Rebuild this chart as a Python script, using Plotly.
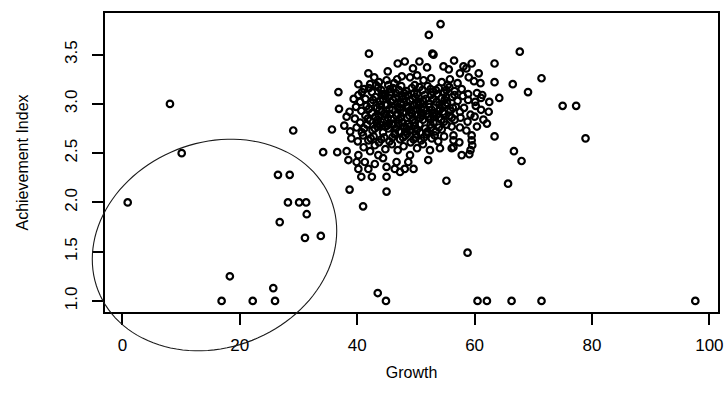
import math
import plotly.graph_objects as go

# Outlying points (Growth, Achievement Index)
outlier_growth = [0.9, 8.1, 10.1, 16.9, 18.3, 22.2, 26.0, 25.7, 26.5, 28.5, 26.8, 28.2, 30.1, 31.3,
                  31.4, 31.1, 33.8, 29.1, 43.5, 44.9, 58.8, 60.5, 62.1, 66.3, 71.4, 97.6,
                  55.2, 65.7, 66.7, 68.0, 63.4, 78.9, 75.0, 77.3, 71.4, 66.5, 69.1, 64.2, 63.4,
                  62.5, 62.1, 67.7, 63.4, 54.2, 52.2, 42.0, 52.8, 35.7, 34.2, 36.6, 38.2, 38.7,
                  41.0, 45.0, 36.8, 36.9]
outlier_achieve = [2.00, 3.00, 2.50, 1.00, 1.25, 1.00, 1.00, 1.13, 2.28, 2.28, 1.80, 2.00, 2.00, 2.00,
                   1.88, 1.64, 1.66, 2.73, 1.08, 1.00, 1.49, 1.00, 1.00, 1.00, 1.00, 1.00,
                   2.22, 2.19, 2.52, 2.42, 2.67, 2.65, 2.98, 2.98, 3.26, 3.20, 3.12, 3.06, 3.22,
                   3.02, 2.80, 3.53, 3.41, 3.81, 3.70, 3.51, 3.51, 2.74, 2.51, 2.51, 2.52, 2.13,
                   1.96, 2.11, 3.12, 2.95]

# Main cloud of schools
cloud_growth = [
    46.9, 48.1, 50.6, 54.7, 58.1, 59.5, 57.5, 60.7, 41.9, 53.0, 55.6, 49.5, 45.2, 51.9, 58.6, 56.5,
    40.2, 42.2, 45.0, 47.6, 49.0, 51.3, 61.0, 43.7, 46.3, 50.2, 52.6, 54.4, 55.8, 57.1, 59.0, 59.9, 46.8, 42.9,
    40.2, 60.4, 61.3, 41.2, 42.5, 43.6, 44.7, 45.6, 46.6, 47.5, 48.4, 49.3, 50.2, 51.1, 52.0, 52.9, 53.9,
    54.8, 55.7, 56.6, 57.8, 58.9, 43.2, 45.3, 49.8, 55.4, 40.8, 47.1, 52.5,
    41.4, 42.3, 43.1, 43.9, 44.8, 45.7, 46.5, 47.4, 48.2, 49.0, 49.9, 50.8, 51.7, 52.6, 53.5, 54.4, 55.3,
    56.2, 57.1, 58.0, 58.9, 60.1, 61.1, 40.5, 44.4, 48.6, 52.2, 56.6, 39.4,
    38.7, 62.4, 59.3, 57.5, 39.8, 40.7, 41.6, 42.5, 43.4, 44.2, 45.1, 46.0, 46.9, 47.8, 48.7, 49.6, 50.5,
    51.4, 52.3, 53.2, 54.1, 55.0, 55.9, 56.8, 58.2, 60.2, 61.1, 43.8, 47.4, 50.9, 54.6,
    61.5, 39.6, 40.5, 41.4, 42.2, 43.1, 44.0, 44.9, 45.8, 46.7, 47.6, 48.5, 49.4, 50.3, 51.2, 52.1, 53.0,
    53.9, 54.8, 55.7, 56.6, 57.6, 58.8, 60.0, 38.2, 45.4, 49.8, 53.5,
    56.1, 57.5, 54.4, 37.8, 38.8, 39.9, 40.8, 41.7, 42.6, 43.5, 44.4, 45.3, 46.2, 47.1, 48.0, 48.9, 49.8,
    50.7, 51.6, 52.5, 53.4, 55.2, 58.6, 60.4, 43.9, 48.5,
    39.0, 56.4, 59.5, 52.7, 56.4, 59.5, 40.1, 41.0, 41.9, 42.8, 43.7, 44.6, 45.5, 46.4, 47.3, 48.2, 49.1,
    50.0, 50.9, 51.8, 53.8, 54.8, 57.4,
    52.4, 54.1, 56.1, 59.3, 59.1, 40.2, 43.6, 49.0, 57.8, 59.6, 56.4, 41.1, 42.2, 43.0, 44.8, 45.9, 46.9,
    47.9, 50.2, 51.2,
    39.9, 41.3, 44.4, 48.7, 46.7, 52.1, 38.5, 43.0,
    40.2, 41.9, 45.0, 46.4, 47.3, 48.1, 49.6, 40.7, 42.5, 45.0,
    42.0, 44.1, 46.1, 48.0, 50.6, 53.4, 55.2,
    42.7, 44.4, 46.1, 47.8, 49.4, 51.2, 53.0, 54.9,
    42.0, 43.8, 45.5, 47.2, 49.1, 50.9, 52.7, 54.5, 56.3,
    41.8, 43.5, 45.2, 47.1, 48.9, 50.7, 52.5, 54.3, 56.1,
    41.2, 43.0, 44.8, 46.6, 48.4, 50.2, 52.0, 53.9,
    42.3, 44.1, 46.0, 47.8, 49.6, 51.4, 53.2,
    44.6, 46.9, 49.3, 51.8, 47.4, 50.1, 45.9, 48.8, 52.9, 43.4,
    44.2, 45.8, 47.7, 49.7, 51.5, 53.6, 55.1, 44.9, 46.8, 48.6, 50.4, 52.3, 54.0,
    43.7, 45.6, 47.5, 49.3, 51.1, 53.1, 54.9, 45.1, 47.0, 48.9, 50.6, 52.6,
    46.4, 48.3, 50.0, 51.9,
]
cloud_achieve = [
    3.41, 3.43, 3.43, 3.38, 3.38, 3.41, 3.31, 3.31, 3.31, 3.50, 3.35, 3.36, 3.33, 3.37, 3.36, 3.44,
    3.20, 3.20, 3.24, 3.28, 3.27, 3.24, 3.21, 3.22, 3.21, 3.29, 3.26, 3.22, 3.25, 3.21, 3.27, 3.23, 3.25, 3.27,
    3.09, 3.11, 3.09, 3.15, 3.12, 3.17, 3.10, 3.15, 3.11, 3.18, 3.13, 3.16, 3.10, 3.14, 3.18, 3.12, 3.16,
    3.11, 3.17, 3.13, 3.15, 3.10, 3.19, 3.19, 3.19, 3.19, 3.12, 3.14, 3.15,
    3.05, 3.01, 3.07, 3.03, 3.08, 3.02, 3.06, 3.01, 3.08, 3.03, 3.07, 3.01, 3.05, 3.09, 3.02, 3.06, 3.01,
    3.07, 3.03, 3.08, 3.04, 3.02, 3.06, 3.02, 3.09, 3.09, 3.00, 3.09, 3.05,
    2.92, 2.92, 2.89, 2.92, 2.97, 2.93, 2.98, 2.91, 2.96, 2.92, 2.99, 2.94, 2.97, 2.91, 2.96, 2.93, 2.99,
    2.94, 2.97, 2.91, 2.95, 2.99, 2.93, 2.97, 2.96, 2.98, 2.94, 2.99, 2.94, 2.91, 2.92,
    2.84, 2.85, 2.81, 2.88, 2.83, 2.87, 2.82, 2.89, 2.84, 2.88, 2.81, 2.86, 2.83, 2.89, 2.84, 2.87, 2.81,
    2.86, 2.82, 2.88, 2.84, 2.86, 2.82, 2.87, 2.87, 2.80, 2.81, 2.89,
    2.77, 2.76, 2.74, 2.78, 2.72, 2.76, 2.71, 2.79, 2.73, 2.77, 2.71, 2.75, 2.79, 2.72, 2.77, 2.73, 2.78,
    2.71, 2.75, 2.79, 2.72, 2.79, 2.73, 2.77, 2.79, 2.70,
    2.65, 2.68, 2.68, 2.65, 2.63, 2.63, 2.62, 2.68, 2.63, 2.67, 2.61, 2.66, 2.62, 2.69, 2.64, 2.68, 2.61,
    2.66, 2.63, 2.69, 2.62, 2.67, 2.61,
    2.53, 2.55, 2.55, 2.53, 2.49, 2.48, 2.48, 2.48, 2.48, 2.58, 2.56, 2.56, 2.52, 2.58, 2.54, 2.59, 2.53,
    2.57, 2.55, 2.59,
    2.41, 2.41, 2.45, 2.41, 2.41, 2.43, 2.43, 2.39,
    2.34, 2.34, 2.36, 2.34, 2.31, 2.34, 2.34, 2.26, 2.26, 2.26,
    3.16, 3.14, 3.16, 3.11, 3.17, 3.14, 3.14,
    3.04, 3.05, 3.04, 3.05, 3.05, 3.03, 3.05, 3.04,
    2.95, 2.94, 2.95, 2.96, 2.94, 2.96, 2.94, 2.97, 2.96,
    2.85, 2.84, 2.86, 2.84, 2.88, 2.86, 2.84, 2.84, 2.86,
    2.75, 2.75, 2.77, 2.75, 2.75, 2.74, 2.72, 2.76,
    2.65, 2.64, 2.66, 2.66, 2.64, 2.66, 2.68,
    2.90, 2.90, 2.90, 2.90, 3.00, 3.00, 2.80, 2.80, 2.90, 2.80,
    3.10, 3.12, 3.08, 3.11, 3.09, 3.10, 3.07, 2.99, 3.01, 2.98, 3.02, 3.00, 2.99,
    2.88, 2.90, 2.87, 2.91, 2.88, 2.87, 2.90, 2.78, 2.80, 2.77, 2.79, 2.76,
    2.70, 2.72, 2.69, 2.71,
]

x_ticks = [0, 20, 40, 60, 80, 100]
y_ticks = [1.0, 1.5, 2.0, 2.5, 3.0, 3.5]
y_tick_text = ["1.0", "1.5", "2.0", "2.5", "3.0", "3.5"]

growth = outlier_growth + cloud_growth
achieve = outlier_achieve + cloud_achieve

# R-style 4% axis expansion
def r_range(v):
    lo, hi = min(v), max(v)
    d = (hi - lo) * 0.04
    return [lo - d, hi + d]

xr = r_range(growth)
yr = r_range(achieve)

FONT = "Liberation Sans, Arial, Helvetica, sans-serif"

fig = go.Figure()
fig.add_trace(go.Scatter(
    x=growth, y=achieve, mode="markers",
    marker=dict(symbol="circle-open", size=6.5, color="black",
                line=dict(color="black", width=2.2)),
    cliponaxis=False, hoverinfo="x+y",
))

# Hand-drawn ellipse around the low-growth group (paper coordinates, unclipped)
L, R, T, B = 105, 718, 13, 312
cx, cy, a, b, th = 214.5, 245.0, 125.0, 102.5, math.radians(21.5)
segs = []
for i in range(121):
    t = 2 * math.pi * i / 120
    dx = a * math.cos(t) * math.cos(th) - b * math.sin(t) * math.sin(th)
    dy = a * math.cos(t) * math.sin(th) + b * math.sin(t) * math.cos(th)
    px, py = cx + dx, cy - dy
    xp = (px - L) / (R - L)
    yp = (B - py) / (B - T)
    segs.append(("M" if i == 0 else "L") + f"{xp:.5f},{yp:.5f}")
fig.add_shape(type="path", path=" ".join(segs) + " Z", xref="paper", yref="paper",
              line=dict(color="#1a1a1a", width=1.1))

axis_common = dict(
    showgrid=False, zeroline=False, showline=True, linecolor="black", linewidth=2,
    mirror=True, ticks="outside", ticklen=11, tickwidth=1.5, tickcolor="black",
    tickfont=dict(family=FONT, size=17, color="black"), automargin=False,
)
fig.update_xaxes(range=xr, tickvals=x_ticks, ticklabelstandoff=6,
                 title=dict(text="Growth", font=dict(family=FONT, size=16, color="black"), standoff=12),
                 **axis_common)
fig.update_yaxes(range=yr, tickvals=y_ticks, ticktext=y_tick_text, tickangle=-90, ticklabelstandoff=8,
                 title=dict(text="Achievement Index", font=dict(family=FONT, size=16, color="black"), standoff=30),
                 **axis_common)

fig.update_layout(
    width=726, height=401,
    margin=dict(l=L, r=726 - R, t=T, b=401 - B, autoexpand=False),
    paper_bgcolor="white", plot_bgcolor="white",
    showlegend=False,
)

fig.write_html("out.html", config={"displayModeBar": False},
               post_script="document.body.style.margin='0';document.body.style.padding='0';")
